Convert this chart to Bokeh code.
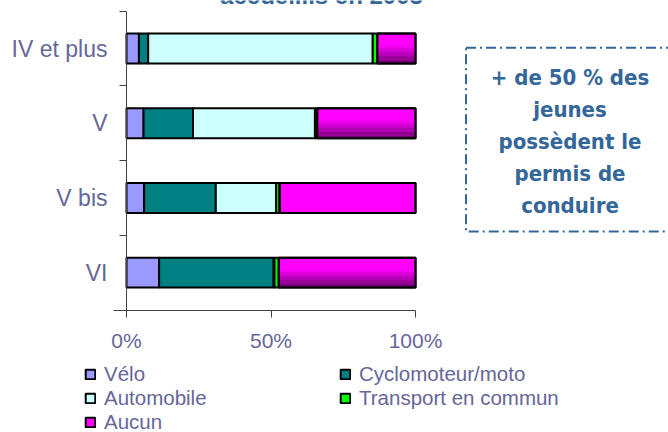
from bokeh.plotting import figure
from bokeh.models import (Range1d, FixedTicker, PrintfTickFormatter, Legend, LegendItem,
                          BoxAnnotation, ColumnDataSource)
from bokeh.embed import file_html
from bokeh.resources import INLINE
from bokeh.core.properties import value

# ---------------- data ----------------
title_text = "accueillis en 2003"
categories = ["IV et plus", "V", "V bis", "VI"]
velo = [4.3, 5.9, 6.1, 11.3]
cyclo = [3.2, 17.1, 24.8, 39.6]
automobile = [77.7, 42.2, 20.9, 0.3]
transport = [1.6, 0.8, 1.2, 1.5]
aucun = [13.2, 34.0, 47.0, 47.3]
series_names = ["Vélo", "Cyclomoteur/moto", "Automobile", "Transport en commun", "Aucun"]
x_ticks = [0, 50, 100]
note_lines = ["+ de 50 % des", "jeunes", "possèdent le", "permis de", "conduire"]

# ---------------- style ----------------
colors = ["#9999FF", "#008080", "#CCFFFF", "#00FF00", "#FF00FF"]
aucun_gradient = [True, True, False, True]
label_color = "#666699"
note_color = "#336699"
FONT = "Liberation Sans"
BAR_H = 0.4

W, H = 668, 432
PX_X = 2.89      # pixels per percent
PX_Y = 74.7      # pixels per category
X0 = 126         # pixel of 0 %
Y_TOP = 10.7     # pixel of top of category axis


def ypix(py):
    """data y for a pixel row (layout helper)"""
    return 4 - (py - Y_TOP) / PX_Y


def xpix(px):
    return (px - X0) / PX_X


p = figure(width=W, height=H,
           x_range=Range1d(xpix(0), xpix(W)),
           y_range=Range1d(ypix(H), ypix(0)),
           output_backend="svg", toolbar_location=None,
           min_border_left=0, min_border_right=0, min_border_top=0, min_border_bottom=0)
p.outline_line_color = None
p.grid.visible = False
p.background_fill_color = "white"
p.border_fill_color = "white"

n = len(categories)
ys = [n - i - 0.5 for i in range(n)]
series = [velo, cyclo, automobile, transport, aucun]

renderers = []
left = [0.0] * n
for name, vals, col in zip(series_names, series, colors):
    right = [l + v for l, v in zip(left, vals)]
    src = ColumnDataSource(dict(y=ys, left=left, right=right))
    r = p.hbar(y="y", left="left", right="right", height=BAR_H, source=src,
               fill_color=col, line_color="black", line_width=2)
    renderers.append((name, r, src))
    left = right

# gradient shading on "Aucun" bars
aucun_src = renderers[-1][2]
n_strips = 14
dark_frac = 0.62
dark = (0x60, 0x00, 0x60)
bright = (0xFF, 0x00, 0xFF)
for k in range(n_strips):
    t = (k + 0.5) / n_strips
    c = tuple(int(d + (b - d) * t) for d, b in zip(dark, bright))
    hex_c = "#%02x%02x%02x" % c
    sy, sl, sr = [], [], []
    for i in range(n):
        if not aucun_gradient[i]:
            continue
        bottom = ys[i] - BAR_H / 2
        sy.append(bottom + (k + 0.5) * dark_frac * BAR_H / n_strips)
        sl.append(aucun_src.data["left"][i])
        sr.append(aucun_src.data["right"][i])
    p.hbar(y=sy, left=sl, right=sr, height=dark_frac * BAR_H / n_strips * 1.05,
           fill_color=hex_c, line_color=None)
# redraw outline of Aucun on top
p.hbar(y="y", left="left", right="right", height=BAR_H, source=aucun_src,
       fill_color=None, line_color="black", line_width=2)

# ---------------- axes ----------------
xa = p.xaxis[0]
xa.fixed_location = 0
xa.bounds = (-4.5, 100)
xa.ticker = FixedTicker(ticks=x_ticks)
xa.formatter = PrintfTickFormatter(format="%d%%")
xa.major_tick_out = 7
xa.major_tick_in = 0
xa.minor_tick_line_color = None
xa.axis_line_color = "#404040"
xa.major_tick_line_color = "#404040"
xa.major_label_text_font = FONT
xa.major_label_text_font_size = "21px"
xa.major_label_text_color = label_color
xa.major_label_standoff = 12

ya = p.yaxis[0]
ya.fixed_location = 0
ya.bounds = (0, 4)
ya.ticker = FixedTicker(ticks=ys, minor_ticks=[float(i) for i in range(n + 1)])
ya.major_label_overrides = {y: c for y, c in zip(ys, categories)}
ya.major_tick_line_color = None
ya.major_tick_out = 0
ya.major_tick_in = 0
ya.minor_tick_out = 7
ya.minor_tick_in = 0
ya.minor_tick_line_color = "#404040"
ya.axis_line_color = "#404040"
ya.major_label_text_font = FONT
ya.major_label_text_font_size = "23px"
ya.major_label_text_color = label_color
ya.major_label_standoff = 12

# ---------------- title (cut at top edge, as in the reference) ----------------
p.text(x=[xpix(321)], y=[ypix(-5.5)], text=[title_text],
       text_font=value(FONT), text_font_style="bold", text_font_size="24px",
       text_color=note_color, text_align="center", text_baseline="alphabetic")

# ---------------- note box ----------------
box = BoxAnnotation(left=xpix(465.5), right=xpix(720), top=ypix(47.3), bottom=ypix(231),
                    fill_color=None, fill_alpha=0, line_color=note_color, line_alpha=1.0,
                    line_width=2, line_dash="10 4 2 4")
p.add_layout(box)
note_y = [ypix(140.5) + (2 - i) * 32 / PX_Y for i in range(len(note_lines))]
p.text(x=[xpix(569.5)] * len(note_lines), y=note_y, text=note_lines,
       text_font=value("DejaVu Sans Condensed"), text_font_style="bold",
       text_font_size="22px", text_color=note_color,
       text_align="center", text_baseline="middle")

# ---------------- legend ----------------
items = [LegendItem(label=name, renderers=[r]) for name, r, _ in renderers]
legend = Legend(items=items, orientation="horizontal", ncols=2, location=(84, -1.5),
                label_text_font=FONT, label_text_font_size="20.5px", label_text_color=label_color,
                glyph_width=12, glyph_height=12, label_standoff=8, label_width=235,
                label_height=20, spacing=0, padding=0, margin=0,
                border_line_color=None, background_fill_alpha=0)
p.add_layout(legend)

open("out.html", "w").write(file_html(p, INLINE))
